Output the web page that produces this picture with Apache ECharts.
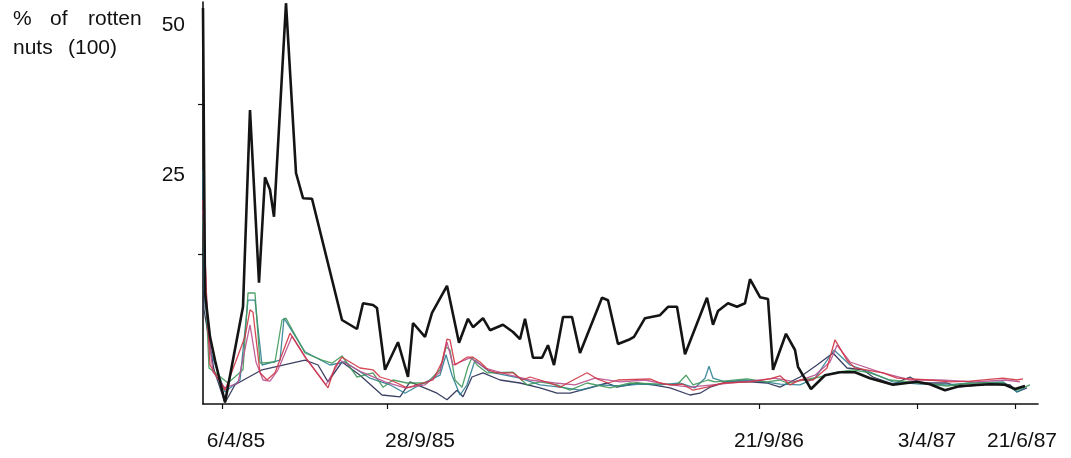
<!DOCTYPE html>
<html>
<head>
<meta charset="utf-8">
<script src="https://cdn.jsdelivr.net/npm/echarts@6/dist/echarts.min.js"></script>
<style>
  html, body { margin: 0; padding: 0; background: #fff; }
  #chart { width: 1071px; height: 458px; }
</style>
</head>
<body>
<div id="chart"></div>
<script>
// Sampling index along the season (x) and % of rotten nuts (y), one list per plot line.
const plotBlack = [[0,66],[0.4,18.5],[1.4,11.2],[2.4,7.3],[4.4,0.3],[8,16.2],[9.4,49],[11.2,20.2],[12.4,37.8],[13.4,35.7],[14.2,31.2],[16.6,66.8],[18.6,38.5],[20,34.3],[21.8,34.2],[27.8,14],[30.8,12.5],[32,16.8],[34,16.5],[34.8,16],[36.4,5.7],[39,10.3],[41,4.5],[42,13.5],[44.4,11.2],[45.8,15.2],[48.8,19.7],[51.2,10.2],[53,14.2],[54,12.8],[56,14.3],[57.4,12.3],[60,13.2],[62,12],[63.4,10.8],[64.4,14.2],[66,7.7],[67.8,7.7],[69,9.8],[70.2,6.5],[72,14.5],[73.8,14.5],[75.4,8.5],[79.8,17.7],[81,17.3],[83,10],[85.4,10.8],[86.2,11.2],[88.4,14.3],[91.4,14.8],[93,16.2],[94.8,16.2],[96.4,8.3],[100.8,17.7],[102,13.2],[103,15.5],[105,16.8],[106.8,16.2],[108.4,16.8],[109.4,20.8],[111.4,17.8],[113,17.5],[114,5.7],[116.6,11.7],[118.4,9],[119,6.2],[121.6,2.5],[124.4,4.8],[127.4,5.3],[130.4,5.3],[133.4,4.3],[138,3.2],[142.8,3.7],[145.4,3.3],[148.4,2.3],[151.4,3],[157.4,3.3],[160.4,3.2],[162.4,2.5],[164.4,3]];

const plotNavy = [[0,37.3],[0.2,15.7],[2.2,5.7],[4.4,0.2],[6.4,3.2],[11.8,5.7],[20.4,7.3],[23,6.5],[25,3.7],[27.8,7],[31.4,4.8],[35.8,1.5],[39.4,1.2],[41.4,3.7],[46.8,1.8],[48.8,0.7],[50.8,2.3],[52,1.2],[53.8,4.5],[56,5.2],[59.4,4],[63.4,3.5],[67.4,2.7],[70.8,1.8],[73.4,1.8],[77.4,2.7],[80.8,3.5],[82.8,2.8],[86.8,3.5],[90,3.2],[93.4,2.7],[97.4,1.5],[99.4,1.8],[101.4,2.8],[104.8,3.7],[109.4,3.7],[112.8,3.5],[115.4,2.8],[119.4,4.5],[122.8,6.5],[126,8.5],[128.8,6],[132,5.7],[134,4.5],[138,3.3],[141.4,4.5],[143.4,3.5],[148.8,3.5],[151.4,2.8],[158.8,3.5],[161.4,3.2],[162.8,2],[164.8,2.7]];

const plotTeal = [[0,39],[0.2,19],[1.4,9],[4.4,2],[7.4,4],[9,17.3],[10.4,17.3],[11.8,6.5],[15.4,7.3],[16.2,14.3],[20.4,8.7],[25.4,6.5],[28.4,7],[33.4,4.3],[37.4,3.2],[40.4,1.8],[43.4,3.2],[47.4,4.8],[48.6,8.2],[49.8,4.8],[51.4,1.5],[52.8,3.2],[54.4,7.3],[57.4,5.3],[63.4,4.3],[67.4,3.2],[71.4,2.8],[75.4,2.3],[79.4,3.2],[83.4,3],[87.4,3.3],[91.4,3.2],[95.4,3.5],[98.4,2.7],[100.4,4.3],[101.2,6.3],[102,4.3],[104.4,3.7],[108.4,4],[112.4,3.7],[115.4,3.3],[119.4,3.2],[122.4,4.3],[126.2,9],[129.4,6.5],[133.4,5.3],[138,3.7],[143.4,3.3],[148.8,3.2],[153.4,3.5],[160,3.7],[162.8,2],[164.4,2.7]];

const plotGreen = [[0,30.7],[0.6,17.3],[1.2,6],[5,3.5],[8,5.7],[9,18.5],[10.4,18.5],[11.4,6.8],[14.4,7],[15.8,14],[16.6,14.3],[20.4,8.5],[23.8,7.3],[25.8,6.8],[27.8,8],[30.8,4.5],[34,5.2],[36,2.8],[38,4],[40.8,3.5],[44.8,3.5],[47.4,5.7],[48.6,9.5],[49.4,9],[50.4,4],[51.8,2.8],[53,6.2],[53.8,7.8],[54.8,6.5],[56.8,5.2],[62,5.3],[64.8,3.2],[67.4,3.7],[70.8,3.2],[73.4,2.3],[76.8,3.5],[81.4,2.7],[85.4,3.5],[92,3.3],[94.8,3.2],[96.6,4.8],[98,3.2],[101,4],[102.4,3.7],[108.8,4.2],[112.8,3.7],[115.4,4],[116.8,3.5],[120,4],[123.4,4.5],[126.8,5.3],[130,5.7],[133.4,5.2],[137.4,4],[143.4,3.5],[148.8,3],[153.4,3.5],[160,3.5],[162.8,2.3],[165.4,3.2]];

const plotRed = [[0,34],[0.8,15.7],[1.4,6.5],[4.4,2.3],[8.4,11.2],[9.4,15.7],[10,15.3],[11.4,5.2],[12.8,4],[14.4,5.2],[17.4,11.8],[20.4,7.8],[25,2.7],[26.4,6.2],[27.8,7.8],[31.4,6],[34,5.7],[35.4,4.5],[37.4,4],[38.8,3.5],[40.8,2.7],[44,3.5],[46,4],[47.8,7],[48.8,10.8],[49.4,10.7],[50.4,6.5],[52.8,7.8],[54,7.8],[55.4,7],[57,5.7],[58.8,5.2],[62,5.2],[63.8,4],[65.4,4.5],[67.4,4],[69.4,3.5],[71.4,2.8],[73.4,3.7],[76.8,5.2],[78.8,4.2],[81,3.5],[83,4],[89.4,4.2],[91.4,3.5],[93.4,3.2],[96,3.3],[98,2.3],[100.8,2.8],[104,3.5],[109.4,3.7],[113.4,4.2],[115.4,4.7],[117.4,3.2],[119.4,4],[122,4],[124.8,6],[126.4,10.7],[128.8,7.3],[130.4,6],[136,5.2],[138.8,4.3],[145.4,4],[149.4,3.7],[153.4,3.8],[160,4.3],[162.8,4],[164,4.2]];

const plotMagenta = [[0,32.3],[1,12.3],[2,5.3],[4.4,2.7],[7,3.5],[9.4,13.2],[10.6,7],[12,4],[13.4,3.8],[15,5.7],[17.8,11.3],[20.6,7.7],[24.6,3.2],[27.4,7.3],[31.8,5.3],[36.4,3.7],[40.4,2.7],[44.4,3.2],[47.4,5.3],[48.8,10.3],[50,6.5],[53.4,7.7],[56.4,6],[61.4,4.8],[65.4,4],[70.4,3.5],[74.4,3.2],[78.4,4.3],[83.4,3.7],[88.4,4],[92.4,3.3],[97.4,2.8],[103.4,3.3],[109.4,3.8],[114.4,4.3],[118.4,3.7],[122.4,4.8],[125.4,7],[126.8,9.8],[129.4,7],[135.4,5.3],[141.4,4],[147.4,4],[154.4,3.7],[160.4,4],[163.4,3.7]];

// Date labels along the time axis and where their ticks sit.
const dateLabels = ['6/4/85', '28/9/85', '21/9/86', '3/4/87', '21/6/87'];
const dateTickAt = [3.8, 36.8, 111.2, 142.8, 162.4];
const dateLabelAt = [6.6, 43.4, 113.2, 144.8, 163.8];

// Value axis ticks.
const valueTicks = [25, 50];
const valueMax = 67;

const FONT = '"Liberation Sans", Arial, sans-serif';

const thin = (data, color) => ({
  type: 'line',
  data: data,
  showSymbol: false,
  symbol: 'none',
  lineStyle: { color: color, width: 1.3, opacity: 0.9 },
  z: 2
});

const chart = echarts.init(document.getElementById('chart'), null, { renderer: 'canvas' });
chart.setOption({
  animation: false,
  backgroundColor: '#ffffff',
  grid: { left: 203, right: 33, top: 2, bottom: 54, containLabel: false, outerBoundsMode: 'none' },
  xAxis: {
    type: 'value',
    min: 0,
    max: 167,
    axisLine: { show: true, lineStyle: { color: '#111', width: 1.6 } },
    axisTick: { show: true, customValues: dateTickAt, length: 5, lineStyle: { color: '#111', width: 1.2 } },
    axisLabel: {
      show: true,
      customValues: dateLabelAt,
      formatter: (v) => dateLabels[dateLabelAt.indexOf(v)] || '',
      color: '#111',
      fontFamily: FONT,
      fontSize: 21,
      margin: 27
    },
    splitLine: { show: false }
  },
  yAxis: {
    type: 'value',
    min: 0,
    max: valueMax,
    axisLine: { show: true, lineStyle: { color: '#111', width: 1.6 } },
    axisTick: { show: true, customValues: valueTicks, length: 5, lineStyle: { color: '#111', width: 1.2 } },
    axisLabel: {
      show: true,
      customValues: valueTicks,
      hideOverlap: false,
      // the value sits on the first line; an empty second line lifts it above its tick
      formatter: (v) => '{num|' + v + '}\n{gap|}',
      verticalAlign: 'bottom',
      margin: 18,
      rich: {
        num: { color: '#111', fontFamily: FONT, fontSize: 21, height: 22, lineHeight: 22 },
        gap: { height: 68, lineHeight: 68 }
      }
    },
    splitLine: { show: false }
  },
  graphic: [
    { type: 'text', left: 13, top: 9, style: { text: '%', font: '21px ' + FONT, fill: '#111' } },
    { type: 'text', left: 50, top: 9, style: { text: 'of', font: '21px ' + FONT, fill: '#111' } },
    { type: 'text', left: 88, top: 9, style: { text: 'rotten', font: '21px ' + FONT, fill: '#111' } },
    { type: 'text', left: 13, top: 38, style: { text: 'nuts', font: '21px ' + FONT, fill: '#111' } },
    { type: 'text', left: 68, top: 38, style: { text: '(100)', font: '21px ' + FONT, fill: '#111' } }
  ],
  series: [
    thin(plotNavy, '#272b52'),
    thin(plotTeal, '#2c7f92'),
    thin(plotGreen, '#3f985a'),
    thin(plotMagenta, '#b9508f'),
    thin(plotRed, '#cf3444'),
    {
      type: 'line',
      data: plotBlack,
      showSymbol: false,
      symbol: 'none',
      lineStyle: { color: '#141414', width: 2.6 },
      z: 3
    }
  ]
});
</script>
</body>
</html>
